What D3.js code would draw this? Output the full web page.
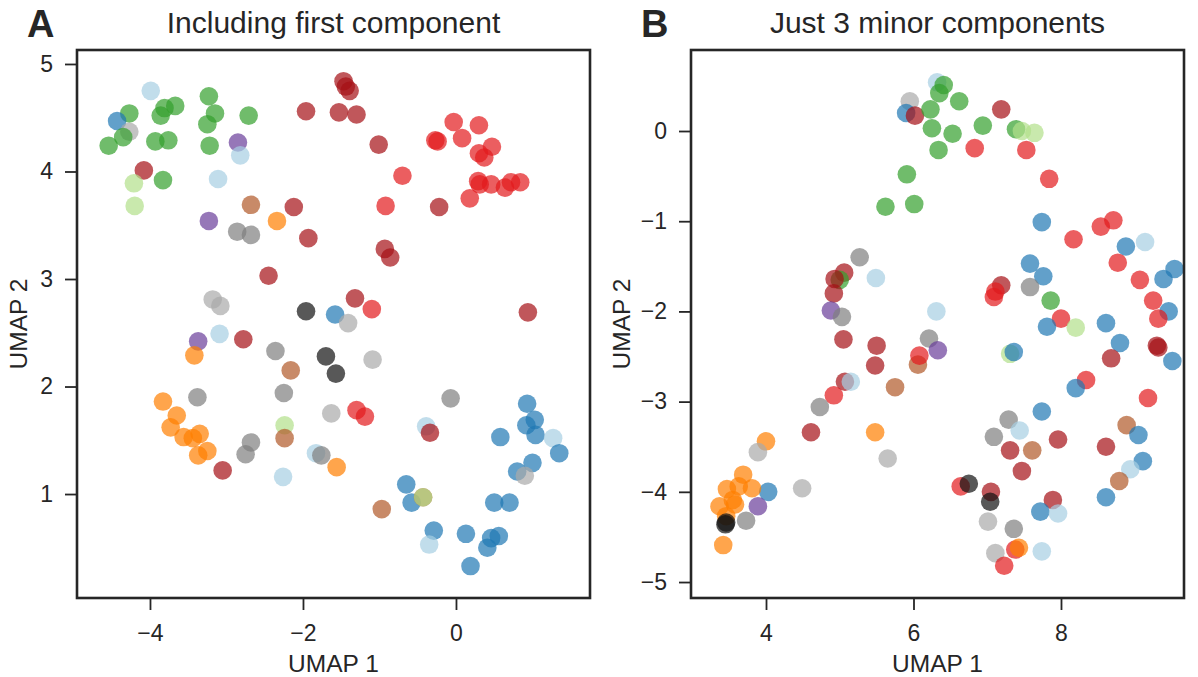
<!DOCTYPE html>
<html>
<head>
<meta charset="utf-8">
<script src="https://cdn.jsdelivr.net/npm/d3@7"></script>
<style>
  html, body { margin: 0; padding: 0; background: #fff; }
  svg { display: block; font-family: "Liberation Sans", Arial, sans-serif; }
</style>
</head>
<body>
<svg id="fig" width="1198" height="677"></svg>
<script>
// Group colours (Paired-style palette)
const groupNames = ["lightblue", "blue", "lightgreen", "green", "red", "darkred",
                    "orange", "brown", "purple", "gray", "lightgray", "darkgray"];
const groupColors = ["#a6cee3", "#1f78b4", "#b2df8a", "#33a02c", "#e31a1c", "#a50f15",
                     "#ff7f00", "#b15928", "#6a3d9a", "#7f7f7f", "#a9a9a9", "#111111"];

// Panel A: embedding including the first component  [UMAP 1, UMAP 2, group]
const pointsA = [
  [-3.99, 4.75, "lightblue"], [-4.27, 4.54, "green"], [-3.81, 4.59, "green"], [-3.67, 4.61, "green"],
  [-3.86, 4.52, "green"], [-4.43, 4.47, "blue"], [-4.27, 4.37, "lightgray"], [-4.35, 4.32, "green"],
  [-4.54, 4.24, "green"], [-3.93, 4.28, "green"], [-3.76, 4.29, "green"], [-3.23, 4.70, "green"],
  [-3.15, 4.54, "green"], [-3.25, 4.44, "green"], [-3.22, 4.24, "green"], [-2.71, 4.52, "green"],
  [-2.85, 4.27, "purple"], [-2.82, 4.15, "lightblue"], [-4.08, 4.01, "darkred"], [-4.21, 3.89, "lightgreen"],
  [-3.83, 3.92, "green"], [-3.11, 3.93, "lightblue"], [-4.20, 3.68, "lightgreen"], [-2.68, 3.69, "brown"],
  [-2.12, 3.67, "darkred"], [-3.23, 3.54, "purple"], [-2.34, 3.54, "orange"], [-2.86, 3.44, "gray"],
  [-2.68, 3.41, "gray"], [-1.93, 3.38, "darkred"], [-2.45, 3.03, "darkred"], [-3.18, 2.81, "lightgray"],
  [-3.08, 2.75, "lightgray"], [-1.96, 2.70, "darkgray"], [-1.58, 2.67, "blue"],
  [-1.47, 4.84, "darkred"], [-1.44, 4.79, "darkred"], [-1.39, 4.75, "darkred"], [-1.96, 4.56, "darkred"],
  [-1.53, 4.55, "darkred"], [-1.30, 4.53, "darkred"], [-0.03, 4.46, "red"], [0.30, 4.43, "red"],
  [0.08, 4.31, "red"], [-0.27, 4.29, "red"], [-0.24, 4.28, "red"], [0.47, 4.23, "red"],
  [0.30, 4.17, "red"], [0.37, 4.13, "red"], [-1.01, 4.25, "darkred"], [-0.70, 3.96, "red"],
  [0.29, 3.91, "red"], [0.31, 3.88, "red"], [0.46, 3.88, "red"], [0.64, 3.85, "red"],
  [0.72, 3.90, "red"], [0.84, 3.90, "red"], [0.18, 3.75, "red"], [-0.92, 3.68, "red"],
  [-0.22, 3.67, "darkred"], [-0.93, 3.28, "darkred"], [-0.86, 3.20, "darkred"], [-1.32, 2.82, "darkred"],
  [-1.10, 2.72, "red"], [0.94, 2.69, "darkred"], [-1.41, 2.59, "lightgray"],
  [-3.37, 2.42, "purple"], [-3.09, 2.49, "lightblue"], [-2.78, 2.44, "darkred"], [-3.42, 2.29, "orange"],
  [-2.36, 2.33, "gray"], [-2.16, 2.15, "brown"], [-1.70, 2.28, "darkgray"], [-1.57, 2.12, "darkgray"],
  [-2.25, 1.94, "gray"], [-3.38, 1.90, "gray"], [-3.83, 1.86, "orange"], [-3.65, 1.73, "orange"],
  [-3.73, 1.62, "orange"], [-3.56, 1.53, "orange"], [-3.44, 1.52, "orange"], [-3.35, 1.56, "orange"],
  [-3.25, 1.40, "orange"], [-3.37, 1.36, "orange"], [-2.24, 1.64, "lightgreen"], [-2.24, 1.52, "brown"],
  [-2.68, 1.48, "gray"], [-2.75, 1.37, "gray"], [-3.05, 1.22, "darkred"], [-2.26, 1.16, "lightblue"],
  [-1.63, 1.75, "lightgray"], [-1.83, 1.38, "lightblue"], [-1.76, 1.36, "gray"], [-1.56, 1.25, "orange"],
  [-1.09, 2.25, "lightgray"], [-1.30, 1.78, "red"], [-1.19, 1.72, "red"], [-0.07, 1.89, "gray"],
  [-0.39, 1.63, "lightblue"], [-0.34, 1.57, "darkred"],
  [0.93, 1.84, "blue"], [1.03, 1.69, "blue"], [0.92, 1.64, "blue"], [1.04, 1.55, "blue"],
  [0.58, 1.53, "blue"], [1.27, 1.52, "lightblue"], [1.35, 1.38, "blue"], [1.00, 1.29, "blue"],
  [0.80, 1.21, "blue"], [0.90, 1.17, "lightgray"], [-0.65, 1.09, "blue"], [-0.58, 0.92, "blue"],
  [-0.43, 0.97, "brown"], [-0.43, 0.97, "lightgreen"], [-0.97, 0.86, "brown"], [-0.29, 0.66, "blue"],
  [-0.35, 0.53, "lightblue"], [0.13, 0.63, "blue"], [0.46, 0.59, "blue"], [0.56, 0.61, "blue"],
  [0.41, 0.50, "blue"], [0.19, 0.33, "blue"], [0.50, 0.92, "blue"], [0.70, 0.92, "blue"]
];

// Panel B: embedding from the three minor components  [UMAP 1, UMAP 2, group]
const pointsB = [
  [6.32, 0.54, "lightblue"], [6.41, 0.51, "green"], [6.35, 0.42, "green"], [5.95, 0.33, "lightgray"],
  [5.90, 0.20, "blue"], [6.02, 0.17, "darkred"], [6.23, 0.24, "green"], [6.25, 0.03, "green"],
  [6.53, -0.03, "green"], [6.34, -0.21, "green"], [5.91, -0.48, "green"], [5.62, -0.84, "green"],
  [6.01, -0.81, "green"], [6.62, 0.33, "green"], [7.19, 0.24, "darkred"], [6.94, 0.06, "green"],
  [7.39, 0.02, "green"], [7.47, 0.00, "lightgreen"], [7.64, -0.02, "lightgreen"], [6.83, -0.19, "red"],
  [7.53, -0.21, "red"], [7.84, -0.53, "red"],
  [5.27, -1.40, "gray"], [5.49, -1.63, "lightblue"], [5.06, -1.57, "darkred"], [5.00, -1.65, "green"],
  [4.93, -1.64, "darkred"], [4.92, -1.80, "darkred"], [4.88, -1.99, "purple"], [5.03, -2.06, "gray"],
  [6.31, -2.00, "lightblue"], [5.05, -2.31, "darkred"], [5.50, -2.38, "darkred"], [5.48, -2.60, "darkred"],
  [5.07, -2.78, "darkred"], [5.15, -2.78, "lightblue"], [4.92, -2.93, "red"], [4.73, -3.06, "gray"],
  [4.61, -3.34, "darkred"], [5.75, -2.84, "brown"], [6.06, -2.59, "brown"], [6.08, -2.49, "red"],
  [6.21, -2.30, "gray"], [6.33, -2.43, "purple"],
  [7.74, -1.01, "blue"], [8.54, -1.06, "red"], [8.71, -0.99, "red"], [8.17, -1.20, "red"],
  [8.88, -1.28, "blue"], [9.14, -1.23, "lightblue"], [8.77, -1.46, "red"], [7.58, -1.47, "blue"],
  [7.76, -1.61, "blue"], [9.54, -1.53, "blue"], [9.39, -1.64, "blue"], [9.07, -1.65, "red"],
  [7.19, -1.71, "darkred"], [7.11, -1.78, "red"], [7.09, -1.84, "red"], [7.58, -1.73, "gray"],
  [7.86, -1.88, "green"], [9.25, -1.88, "red"], [9.46, -2.00, "blue"], [9.32, -2.08, "red"],
  [8.00, -2.08, "red"], [8.20, -2.18, "lightgreen"], [7.81, -2.17, "blue"], [8.61, -2.13, "blue"],
  [7.31, -2.47, "lightgreen"], [7.36, -2.45, "blue"], [8.80, -2.35, "blue"], [8.68, -2.52, "darkred"],
  [9.30, -2.38, "darkred"], [9.32, -2.40, "darkred"], [9.51, -2.55, "blue"], [8.34, -2.76, "red"],
  [8.20, -2.85, "blue"], [9.18, -2.96, "red"], [7.74, -3.11, "blue"], [7.29, -3.20, "gray"],
  [7.44, -3.32, "lightblue"], [7.09, -3.39, "gray"], [8.89, -3.26, "brown"], [9.05, -3.37, "blue"],
  [7.96, -3.42, "darkred"], [7.31, -3.54, "darkred"], [7.61, -3.54, "brown"], [8.61, -3.50, "darkred"],
  [9.11, -3.66, "blue"], [8.94, -3.75, "lightblue"], [7.47, -3.77, "darkred"], [8.79, -3.88, "brown"],
  [8.61, -4.06, "blue"], [7.89, -4.09, "darkred"], [7.72, -4.22, "blue"], [7.96, -4.24, "lightblue"],
  [7.74, -4.66, "lightblue"],
  [6.64, -3.94, "red"], [6.75, -3.91, "darkgray"], [7.05, -4.00, "darkred"], [7.04, -4.11, "darkgray"],
  [7.01, -4.33, "lightgray"], [7.11, -4.68, "lightgray"], [7.23, -4.82, "red"], [7.36, -4.41, "gray"],
  [7.38, -4.64, "red"], [7.43, -4.62, "orange"],
  [5.48, -3.34, "orange"], [5.65, -3.63, "lightgray"], [4.49, -3.96, "lightgray"],
  [4.00, -3.44, "orange"], [3.89, -3.56, "lightgray"], [3.69, -3.81, "orange"], [4.03, -4.00, "blue"],
  [3.47, -3.97, "orange"], [3.63, -3.94, "orange"], [3.81, -3.96, "orange"], [3.55, -4.09, "orange"],
  [3.37, -4.16, "orange"], [3.58, -4.14, "orange"], [3.46, -4.27, "orange"], [3.46, -4.34, "darkgray"],
  [3.45, -4.36, "darkgray"], [3.73, -4.32, "gray"], [3.89, -4.16, "purple"], [3.42, -4.59, "orange"]
];

const panels = [
  {
    letter: "A", title: "Including first component", points: pointsA,
    left: 77, right: 590, top: 50, bottom: 598, yLabelX: 27,
    xDomain: [-4.954, 1.752], yDomain: [0.033, 5.130],
    xTicks: [-4, -2, 0], yTicks: [1, 2, 3, 4, 5]
  },
  {
    letter: "B", title: "Just 3 minor components", points: pointsB,
    left: 691, right: 1184, top: 50, bottom: 598, yLabelX: 630,
    xDomain: [2.983, 9.668], yDomain: [-5.177, 0.898],
    xTicks: [4, 6, 8], yTicks: [-5, -4, -3, -2, -1, 0]
  }
];

const ink = "#262626";
const svg = d3.select("#fig");
const color = d3.scaleOrdinal().domain(groupNames).range(groupColors);

panels.forEach(p => {
  const x = d3.scaleLinear().domain(p.xDomain).range([p.left, p.right]);
  const y = d3.scaleLinear().domain(p.yDomain).range([p.bottom, p.top]);
  const g = svg.append("g");

  // markers
  g.append("g").selectAll("circle")
    .data(p.points)
    .join("circle")
    .attr("cx", d => x(d[0]))
    .attr("cy", d => y(d[1]))
    .attr("r", 9.3)
    .attr("fill", d => color(d[2]))
    .attr("fill-opacity", 0.7);

  // axes
  const fmt = d3.format("d");
  const xAxis = g.append("g")
    .attr("transform", `translate(0,${p.bottom})`)
    .call(d3.axisBottom(x).tickValues(p.xTicks).tickFormat(fmt).tickSize(12).tickPadding(15));
  const yAxis = g.append("g")
    .attr("transform", `translate(${p.left},0)`)
    .call(d3.axisLeft(y).tickValues(p.yTicks).tickFormat(fmt).tickSize(12).tickPadding(12));
  [xAxis, yAxis].forEach(a => {
    a.select(".domain").remove();
    a.selectAll(".tick line").attr("stroke", ink).attr("stroke-width", 1.8);
    a.selectAll(".tick text").attr("fill", ink).attr("font-size", 23)
      .attr("font-family", "'Liberation Sans', Arial, sans-serif");
  });

  // frame
  g.append("rect")
    .attr("x", p.left).attr("y", p.top)
    .attr("width", p.right - p.left).attr("height", p.bottom - p.top)
    .attr("fill", "none").attr("stroke", ink).attr("stroke-width", 2.6);

  // axis labels
  g.append("text")
    .attr("x", (p.left + p.right) / 2).attr("y", 672)
    .attr("text-anchor", "middle").attr("font-size", 24.5).attr("fill", ink)
    .text("UMAP 1");
  g.append("text")
    .attr("transform", `translate(${p.yLabelX},${(p.top + p.bottom) / 2}) rotate(-90)`)
    .attr("text-anchor", "middle").attr("font-size", 24.5).attr("fill", ink)
    .text("UMAP 2");

  // title and panel letter
  g.append("text")
    .attr("x", (p.left + p.right) / 2).attr("y", 33)
    .attr("text-anchor", "middle").attr("font-size", 30).attr("fill", ink)
    .text(p.title);
  g.append("text")
    .attr("x", p.left - 50).attr("y", 37)
    .attr("font-size", 38).attr("font-weight", "bold").attr("fill", ink)
    .text(p.letter);
});
</script>
</body>
</html>
